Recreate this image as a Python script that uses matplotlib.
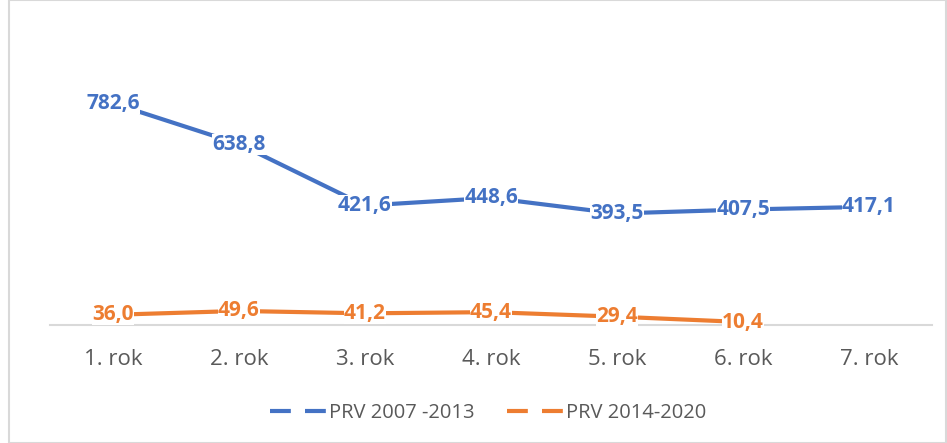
import matplotlib.pyplot as plt
from matplotlib.patches import Rectangle
from matplotlib.lines import Line2D

categories = ["1. rok", "2. rok", "3. rok", "4. rok", "5. rok", "6. rok", "7. rok"]
prv_2007 = [782.6, 638.8, 421.6, 448.6, 393.5, 407.5, 417.1]
prv_2014 = [36.0, 49.6, 41.2, 45.4, 29.4, 10.4]

blue = "#4472c4"
orange = "#ed7d31"

plt.rcParams["font.family"] = ["Open Sans", "DejaVu Sans"]

fig = plt.figure(figsize=(9.47, 4.43), dpi=100)
fig.patches.append(Rectangle((9 / 947, 0), 1 - 9 / 947 - 0.001, 0.999, transform=fig.transFigure,
                             fill=False, edgecolor="#d9d9d9", linewidth=1.5))
ax = fig.add_axes([50 / 947, 1 - 325 / 443, 882 / 947, 255 / 443])

x1 = list(range(len(prv_2007)))
x2 = list(range(len(prv_2014)))
ax.plot(x1, prv_2007, color=blue, linewidth=3, solid_capstyle="butt")
ax.plot(x2, prv_2014, color=orange, linewidth=3, solid_capstyle="butt")

box = dict(boxstyle="square,pad=0.0", facecolor="white", edgecolor="none")
for x, v in zip(x1, prv_2007):
    ax.text(x, v, f"{v:.1f}".replace(".", ","), ha="center", va="center", color=blue,
            fontsize=15, fontweight="bold", bbox=box, zorder=5)
for x, v in zip(x2, prv_2014):
    ax.text(x, v, f"{v:.1f}".replace(".", ","), ha="center", va="center", color=orange,
            fontsize=15, fontweight="bold", bbox=box, zorder=5)

ax.set_xlim(-0.5, len(categories) - 0.5)
ax.set_ylim(0, 900)
ax.set_xticks(range(len(categories)))
ax.set_xticklabels(categories, fontsize=16, color="#595959")
ax.tick_params(axis="x", length=0, pad=17)
ax.set_yticks([])
for s in ["top", "right", "left"]:
    ax.spines[s].set_visible(False)
ax.spines["bottom"].set_color("#d9d9d9")
ax.spines["bottom"].set_linewidth(1.5)
ax.spines["bottom"].set_zorder(0)

dash = (0, (5.0, 3.4))
handles = [Line2D([], [], color=blue, linewidth=3, linestyle=dash),
           Line2D([], [], color=orange, linewidth=3, linestyle=dash)]
labels = ["PRV 2007 -2013", "PRV 2014-2020"]
fig.legend(handles, labels, loc="center", bbox_to_anchor=(488 / 947, 1 - 413 / 443), ncol=2,
           frameon=False, fontsize=14.5, labelcolor="#595959", handlelength=2.8,
           handletextpad=0.15, columnspacing=1.6)

fig.savefig("out.png", dpi=100)
